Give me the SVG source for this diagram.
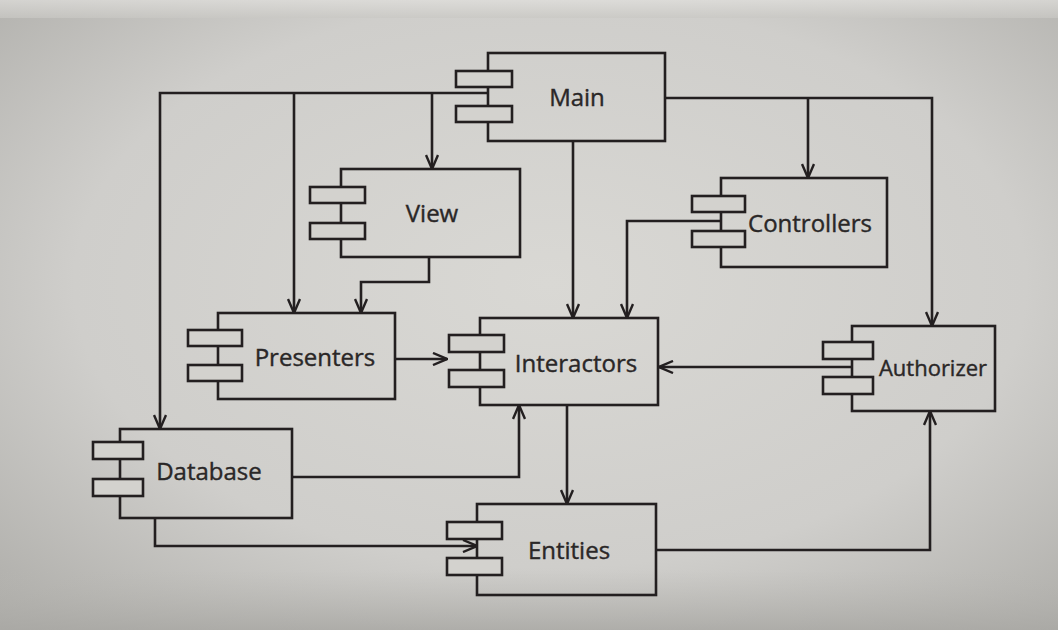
<svg xmlns="http://www.w3.org/2000/svg" width="1058" height="630" viewBox="0 0 1058 630">
  <defs>
    <radialGradient id="paper" cx="0.52" cy="0.45" r="0.75">
      <stop offset="0" stop-color="#d9d8d4"/>
      <stop offset="0.6" stop-color="#cfcecb"/>
      <stop offset="1" stop-color="#adaca8"/>
    </radialGradient>
    <linearGradient id="topEdge" x1="0" y1="0" x2="0" y2="1">
      <stop offset="0" stop-color="#e2e1de"/>
      <stop offset="1" stop-color="#c9c8c4"/>
    </linearGradient>
    <linearGradient id="bottomShade" x1="0" y1="0" x2="0" y2="1">
      <stop offset="0" stop-color="#b9b8b4" stop-opacity="0"/>
      <stop offset="1" stop-color="#a9a8a4" stop-opacity="0.8"/>
    </linearGradient>
    <marker id="open" viewBox="0 0 16 14" refX="15" refY="7" markerWidth="16" markerHeight="14" markerUnits="userSpaceOnUse" orient="auto">
      <path d="M1,1 L15,7 L1,13" fill="none" stroke="#231f20" stroke-width="2.4" stroke-linejoin="miter"/>
    </marker>
  </defs>
  <style>
    .body { fill: none; stroke: #231f20; stroke-width: 2.6; }
    .tab { fill: #d3d2ce; stroke: #231f20; stroke-width: 2.6; }
    .label { font-family: "Open Sans", "Noto Sans", "Liberation Sans", sans-serif; font-size: 24px; fill: #2a2727; text-anchor: middle; stroke: #2a2727; stroke-width: 0.4; }
    .wire { fill: none; stroke: #231f20; stroke-width: 2.6; stroke-linejoin: miter; }
  </style>

  <!-- page background -->
  <rect x="0" y="0" width="1058" height="630" fill="url(#paper)"/>
  <rect x="0" y="0" width="1058" height="18" fill="url(#topEdge)" opacity="0.7"/>
  <rect x="0" y="570" width="1058" height="60" fill="url(#bottomShade)"/>

  <!-- dependency connectors -->
  <g id="connectors">
    <!-- Main to Database, Presenters, View -->
    <polyline class="wire" points="488,93 160,93 160,429" marker-end="url(#open)"/>
    <polyline class="wire" points="294,93 294,313" marker-end="url(#open)"/>
    <polyline class="wire" points="432,93 432,169" marker-end="url(#open)"/>
    <!-- Main to Interactors -->
    <polyline class="wire" points="573,141 573,318" marker-end="url(#open)"/>
    <!-- Main to Authorizer, Controllers -->
    <polyline class="wire" points="665,98 932,98 932,326" marker-end="url(#open)"/>
    <polyline class="wire" points="808,98 808,178" marker-end="url(#open)"/>
    <!-- View to Presenters -->
    <polyline class="wire" points="429,257 429,282 361,282 361,313" marker-end="url(#open)"/>
    <!-- Controllers to Interactors -->
    <polyline class="wire" points="721,221 627,221 627,318" marker-end="url(#open)"/>
    <!-- Presenters to Interactors -->
    <polyline class="wire" points="395,359 447,359" marker-end="url(#open)"/>
    <!-- Authorizer to Interactors -->
    <polyline class="wire" points="852,367 659,367" marker-end="url(#open)"/>
    <!-- Database to Interactors -->
    <polyline class="wire" points="292,477 519,477 519,405" marker-end="url(#open)"/>
    <!-- Interactors to Entities -->
    <polyline class="wire" points="567,405 567,504" marker-end="url(#open)"/>
    <!-- Database to Entities -->
    <polyline class="wire" points="155,518 155,546 477,546" marker-end="url(#open)"/>
    <!-- Entities to Authorizer -->
    <polyline class="wire" points="656,550 930,550 930,411" marker-end="url(#open)"/>
  </g>

  <g id="main">
    <rect class="body" x="488" y="53" width="177" height="88"/>
    <rect class="tab" x="456" y="71" width="56" height="16"/>
    <rect class="tab" x="456" y="106" width="56" height="16"/>
    <text class="label" x="577" y="106">Main</text>
  </g>

  <g id="view">
    <rect class="body" x="341" y="169" width="179" height="88"/>
    <rect class="tab" x="310" y="187" width="55" height="16"/>
    <rect class="tab" x="310" y="223" width="55" height="16"/>
    <text class="label" x="432" y="222">View</text>
  </g>

  <g id="controllers">
    <rect class="body" x="721" y="178" width="166" height="89"/>
    <rect class="tab" x="692" y="196" width="53" height="16"/>
    <rect class="tab" x="692" y="231" width="53" height="16"/>
    <text class="label" x="810" y="232">Controllers</text>
  </g>

  <g id="presenters">
    <rect class="body" x="218" y="313" width="177" height="86"/>
    <rect class="tab" x="188" y="330" width="54" height="16"/>
    <rect class="tab" x="188" y="365" width="54" height="16"/>
    <text class="label" x="315" y="366">Presenters</text>
  </g>

  <g id="interactors">
    <rect class="body" x="480" y="318" width="178" height="87"/>
    <rect class="tab" x="449" y="335" width="55" height="17"/>
    <rect class="tab" x="449" y="370" width="55" height="17"/>
    <text class="label" x="576" y="372">Interactors</text>
  </g>

  <g id="authorizer">
    <rect class="body" x="852" y="326" width="143" height="85"/>
    <rect class="tab" x="823" y="342" width="50" height="17"/>
    <rect class="tab" x="823" y="377" width="50" height="17"/>
    <text class="label" x="933" y="376" style="font-size:22px">Authorizer</text>
  </g>

  <g id="database">
    <rect class="body" x="120" y="429" width="172" height="89"/>
    <rect class="tab" x="93" y="442" width="50" height="17"/>
    <rect class="tab" x="93" y="479" width="50" height="17"/>
    <text class="label" x="209" y="480">Database</text>
  </g>

  <g id="entities">
    <rect class="body" x="477" y="504" width="179" height="91"/>
    <rect class="tab" x="447" y="522" width="55" height="17"/>
    <rect class="tab" x="447" y="558" width="55" height="17"/>
    <text class="label" x="569" y="559">Entities</text>
  </g>
</svg>
